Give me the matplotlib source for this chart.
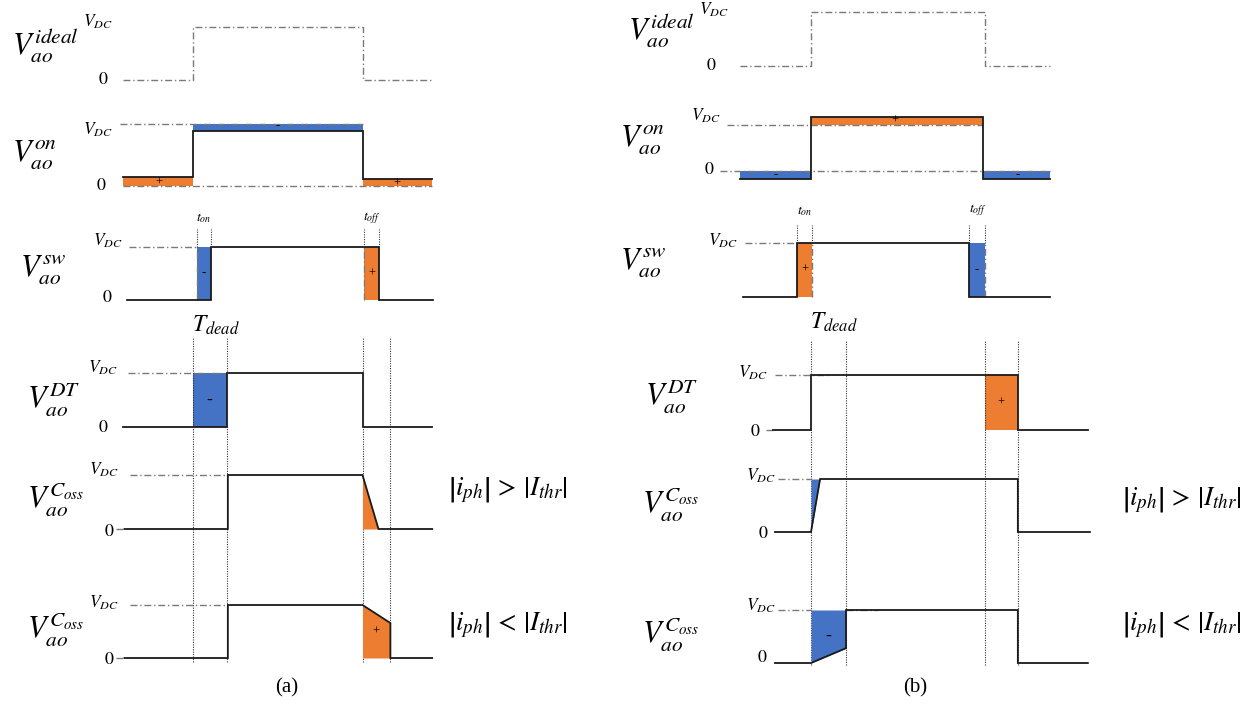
import matplotlib
matplotlib.use('Agg')
import matplotlib.pyplot as plt

plt.rcParams['mathtext.fontset'] = 'stix'
plt.rcParams['font.family'] = ['Liberation Serif', 'DejaVu Serif']

W, H = 1250, 707
BLUE = '#4472C4'
ORANGE = '#ED7D31'
LINE = '#1a1a1a'
REF = '#7a7a7a'

# ---------------- data (time in dead-time units, voltage in V_DC units) ----------------
# panel (a)
a_ideal_t = [-2.05, 0, 0, 5, 5, 7.05]
a_ideal_v = [0, 0, 1, 1, 0, 0]
a_on_t = [-2.05, 0, 0, 5, 5, 7.05]
a_on_v = [0.14, 0.14, 0.89, 0.89, 0.11, 0.11]
a_sw_t = [-1.93, 0.54, 0.54, 5.49, 5.49, 7.07]
a_sw_v = [0, 0, 1, 1, 0, 0]
a_sw_on = [0.13, 0.54]
a_sw_off = [5.04, 5.49]
a_dt_t = [-2.05, 1.0, 1.0, 5.0, 5.0, 7.05]
a_dt_v = [0, 0, 1, 1, 0, 0]
a_c1_t = [-2.0, 1.04, 1.04, 5.0, 5.47, 7.05]
a_c1_v = [0, 0, 1, 1, 0, 0]
a_c2_t = [-2.0, 1.04, 1.04, 5.0, 5.82, 5.82, 7.05]
a_c2_v = [0, 0, 1, 1, 0.66, 0, 0]
a_dead = [0, 1.0, 5.0, 5.82]

# panel (b)
b_ideal_t = [-2.03, 0, 0, 4.97, 4.97, 6.83]
b_ideal_v = [0, 0, 1, 1, 0, 0]
b_on_t = [-2.03, 0, 0, 4.91, 4.91, 6.83]
b_on_v = [-0.17, -0.17, 1.17, 1.17, -0.17, -0.17]
b_sw_t = [-1.94, -0.4, -0.4, 4.51, 4.51, 6.83]
b_sw_v = [0, 0, 1, 1, 0, 0]
b_sw_on = [-0.4, 0.03]
b_sw_off = [4.51, 4.97]
b_dt_t = [-1.09, 0, 0, 5.91, 5.91, 7.91]
b_dt_v = [0, 0, 1, 1, 0, 0]
b_c1_t = [-1.03, 0, 0.26, 5.91, 5.91, 7.97]
b_c1_v = [0, 0, 1, 1, 0, 0]
b_c2_t = [-1.03, 0, 1.0, 1.0, 5.91, 5.91, 7.91]
b_c2_v = [0, 0, 0.28, 1, 1, 0, 0]
b_dead = [0, 1.0, 4.97, 5.91]

fig = plt.figure(figsize=(12.5, 7.07), dpi=100)


def mkax(x0, ppu, yz, yv):
    ax = fig.add_axes([0, 0, 1, 1])
    ax.set_axis_off()
    ax.patch.set_alpha(0)
    ax.set_xlim((0 - x0) / ppu, (W - x0) / ppu)
    ax.set_ylim((yz - H) / (yz - yv), yz / (yz - yv))
    return ax


def ftext(x, y, s, size, ha='left', va='center', **kw):
    fig.text(x / W, 1 - y / H, s, fontsize=size, ha=ha, va=va, **kw)


def dd(ax, x, y, **kw):
    ax.plot(x, y, color=REF, lw=1.0, ls=(0, (5, 2, 1, 2)), **kw)


def wave(ax, t, v):
    ax.plot(t, v, color=LINE, lw=1.3, solid_joinstyle='miter')


def vdot(ax, t, y_top, y_bot, **kw):
    ax.axvline(t, ymin=1 - y_bot / H, ymax=1 - y_top / H, color='#333333',
               lw=0.8, ls=(0, (1, 1.2)), **kw)


def sign(ax, t, v, s, size=9):
    ax.text(t, v, s, ha='center', va='center', fontsize=size, color='black')


ROW = 22
LVL = 12.5
ZERO = 13
CMP = 19.5
GT = r'$\left|i_{ph}\right|\,>\,\left|I_{thr}\right|$'
LT = r'$\left|i_{ph}\right|\,<\,\left|I_{thr}\right|$'

# ================= panel (a) =================
xa, pa = 192.5, 34.0
# ideal
ax = mkax(xa, pa, 80, 27)
dd(ax, a_ideal_t, a_ideal_v)
ftext(12, 45, r'$V_{ao}^{ideal}$', ROW)
ftext(113, 22, r'$V_{DC}$', LVL, ha='right')
ftext(108, 80, r'$0$', ZERO, ha='right')

# on-state
ax = mkax(xa, pa, 186, 124)
ax.fill_between([0, 5], 0.89, 1, color=BLUE, lw=0)
ax.fill_between([a_on_t[0], 0], 0, 0.14, color=ORANGE, lw=0)
ax.fill_between([5, a_on_t[-1]], 0, 0.11, color=ORANGE, lw=0)
dd(ax, [-2.13, 5], [1, 1])
dd(ax, [a_on_t[0], a_on_t[-1]], [0, 0])
wave(ax, a_on_t, a_on_v)
sign(ax, -1.0, 0.05, '+')
sign(ax, 2.5, 0.96, '-')
sign(ax, 6.0, 0.04, '+')
ftext(12, 155, r'$V_{ao}^{on}$', ROW)
ftext(113, 130, r'$V_{DC}$', LVL, ha='right')
ftext(106, 185, r'$0$', ZERO, ha='right')

# switching
ax = mkax(xa, pa, 300, 247)
ax.fill_between(a_sw_on, 0, 1, color=BLUE, lw=0)
ax.fill_between(a_sw_off, 0, 1, color=ORANGE, lw=0)
dd(ax, [-1.87, a_sw_on[0]], [1, 1])
dd(ax, [a_sw_on[0], a_sw_on[0]], [0, 1])
dd(ax, [a_sw_off[0], a_sw_off[0]], [0, 1])
wave(ax, a_sw_t, a_sw_v)
for t in a_sw_on + a_sw_off:
    vdot(ax, t, 229, 247)
sign(ax, 0.33, 0.5, '-')
sign(ax, 5.27, 0.5, '+')
ax.text(0.33, 1.55, r'$t_{on}$', fontsize=10, ha='center', va='center')
ax.text(5.27, 1.55, r'$t_{off}$', fontsize=10, ha='center', va='center')
ftext(20, 270, r'$V_{ao}^{sw}$', ROW)
ftext(123, 241, r'$V_{DC}$', LVL, ha='right')
ftext(112, 298, r'$0$', ZERO, ha='right')
ftext(216, 325, r'$T_{dead}$', 17, ha='center')

# dead time
ax = mkax(xa, pa, 427, 373)
ax.fill_between([0, 1.0], 0, 1, color=BLUE, lw=0)
dd(ax, [-1.9, 1.0], [1, 1])
wave(ax, a_dt_t, a_dt_v)
sign(ax, 0.5, 0.5, '-', 13)
for t in a_dead:
    vdot(ax, t, 338, 662)
ftext(27, 400, r'$V_{ao}^{DT}$', ROW)
ftext(118, 368, r'$V_{DC}$', LVL, ha='right')
ftext(108, 428, r'$0$', ZERO, ha='right')

# Coss, high current
ax = mkax(xa, pa, 529, 475)
ax.fill_between([5.0, 5.47], [1, 0], 0, color=ORANGE, lw=0)
dd(ax, [-1.84, 1.04], [1, 1])
dd(ax, [-2.25, -2.0], [0, 0])
wave(ax, a_c1_t, a_c1_v)
ftext(27, 500, r'$V_{ao}^{C_{oss}}$', ROW)
ftext(119, 470, r'$V_{DC}$', LVL, ha='right')
ftext(114, 532, r'$0$', ZERO, ha='right')
ftext(508, 490, GT, CMP, ha='center')

# Coss, low current
ax = mkax(xa, pa, 658, 605)
ax.fill_between([5.0, 5.82], [1, 0.66], 0, color=ORANGE, lw=0)
dd(ax, [-1.84, 1.04], [1, 1])
dd(ax, [-2.25, -2.0], [0, 0])
wave(ax, a_c2_t, a_c2_v)
sign(ax, 5.38, 0.5, '+')
ftext(27, 630, r'$V_{ao}^{C_{oss}}$', ROW)
ftext(119, 603, r'$V_{DC}$', LVL, ha='right')
ftext(114, 660, r'$0$', ZERO, ha='right')
ftext(508, 625, LT, CMP, ha='center')
ftext(287, 688, '(a)', 15, ha='center')

# ================= panel (b) =================
xb, pb = 811.0, 35.0
ax = mkax(xb, pb, 66, 12)
dd(ax, b_ideal_t, b_ideal_v)
ftext(628, 30, r'$V_{ao}^{ideal}$', ROW)
ftext(729, 10, r'$V_{DC}$', LVL, ha='right')
ftext(716, 66, r'$0$', ZERO, ha='right')

ax = mkax(xb, pb, 171, 125)
ax.fill_between([0, 4.91], 1, 1.17, color=ORANGE, lw=0)
ax.fill_between([b_on_t[0], 0], -0.17, 0, color=BLUE, lw=0)
ax.fill_between([4.91, b_on_t[-1]], -0.17, 0, color=BLUE, lw=0)
dd(ax, [-2.4, 4.91], [1, 1])
dd(ax, [-2.6, b_on_t[-1]], [0, 0])
wave(ax, b_on_t, b_on_v)
sign(ax, 2.4, 1.09, '+')
sign(ax, -1.0, -0.09, '-')
sign(ax, 5.9, -0.09, '-')
ftext(620, 140, r'$V_{ao}^{on}$', ROW)
ftext(721, 116, r'$V_{DC}$', LVL, ha='right')
ftext(714, 169, r'$0$', ZERO, ha='right')

ax = mkax(xb, pb, 297, 243)
ax.fill_between(b_sw_on, 0, 1, color=ORANGE, lw=0)
ax.fill_between(b_sw_off, 0, 1, color=BLUE, lw=0)
dd(ax, [-1.89, b_sw_on[0]], [1, 1])
dd(ax, [b_sw_on[1], b_sw_on[1]], [0, 1])
dd(ax, [b_sw_off[1], b_sw_off[1]], [0, 1])
wave(ax, b_sw_t, b_sw_v)
for t in b_sw_on + b_sw_off:
    vdot(ax, t, 225, 243)
sign(ax, -0.18, 0.5, '+')
sign(ax, 4.74, 0.5, '-')
ax.text(-0.18, 1.6, r'$t_{on}$', fontsize=10, ha='center', va='center')
ax.text(4.76, 1.6, r'$t_{off}$', fontsize=10, ha='center', va='center')
ftext(620, 263, r'$V_{ao}^{sw}$', ROW)
ftext(738, 241, r'$V_{DC}$', LVL, ha='right')
ftext(834, 322, r'$T_{dead}$', 17, ha='center')

ax = mkax(xb, pb, 430, 375)
ax.fill_between([4.97, 5.91], 0, 1, color=ORANGE, lw=0)
dd(ax, [-1.03, 0.55], [1, 1])
dd(ax, [-1.3, -1.09], [0, 0])
wave(ax, b_dt_t, b_dt_v)
sign(ax, 5.44, 0.5, '+')
for t in b_dead:
    vdot(ax, t, 340, 665)
ftext(645, 397, r'$V_{ao}^{DT}$', ROW)
ftext(768, 373, r'$V_{DC}$', LVL, ha='right')
ftext(761, 432, r'$0$', ZERO, ha='right')

ax = mkax(xb, pb, 532, 479)
ax.fill_between([0, 0.26], [0, 1], 1, color=BLUE, lw=0)
dd(ax, [-0.94, 0], [1, 1])
wave(ax, b_c1_t, b_c1_v)
ftext(642, 505, r'$V_{ao}^{C_{oss}}$', ROW)
ftext(776, 476, r'$V_{DC}$', LVL, ha='right')
ftext(769, 534, r'$0$', ZERO, ha='right')
ftext(1182, 500, GT, CMP, ha='center')

ax = mkax(xb, pb, 663, 610)
ax.fill_between([0, 1.0], [0, 0.28], 1, color=BLUE, lw=0)
dd(ax, [-0.94, 0], [1, 1])
dd(ax, [1.0, 1.9], [1, 1])
wave(ax, b_c2_t, b_c2_v)
sign(ax, 0.5, 0.5, '-', 13)
ftext(642, 635, r'$V_{ao}^{C_{oss}}$', ROW)
ftext(776, 606, r'$V_{DC}$', LVL, ha='right')
ftext(768, 657, r'$0$', ZERO, ha='right')
ftext(1182, 625, LT, CMP, ha='center')
ftext(915, 688, '(b)', 15, ha='center')

fig.savefig('out.png', dpi=100)
